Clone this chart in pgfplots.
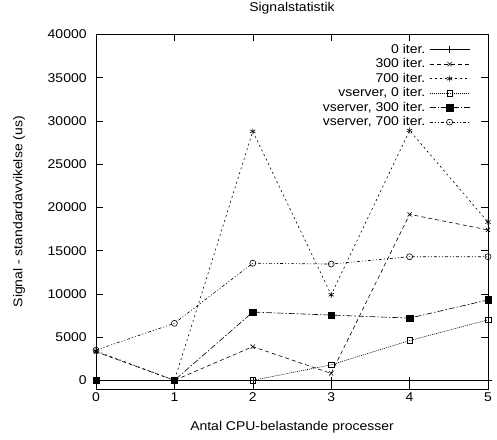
\documentclass[border=0pt]{standalone}
\usepackage{fontspec}
\setmainfont{Liberation Sans}[FakeStretch=1.1]
\usepackage{pgfplots}
\pgfplotsset{compat=1.18}
\newcommand\chartfont{\fontsize{12.7pt}{14pt}\selectfont}
\begin{document}
\chartfont
\begin{tikzpicture}[every node/.append style={font=\chartfont}]
\begin{axis}[
  at={(0pt,0pt)}, anchor=south west,
  scale only axis,
  width=392pt, height=354.5pt,
  xmin=0, xmax=5, ymin=-1000, ymax=40000,
  xtick={0,1,2,3,4,5},
  ytick={0,5000,10000,15000,20000,25000,30000,35000,40000},
  /pgf/number format/assume math mode=true,
  /pgf/number format/1000 sep={},
  scaled y ticks=false,
  tick align=inside,
  major tick length=7pt,
  tick style={black, line width=0.5pt},
  axis line style={line width=0.8pt},
  ticklabel style={font=\chartfont},
  xticklabel style={anchor=center, yshift=-8pt},
  yticklabel style={anchor=east, xshift=-5pt},
  title={Signalstatistik},
  title style={at={(axis description cs:0.5,1.0564)}, anchor=center, font=\chartfont},
  xlabel={Antal CPU-belastande processer},
  xlabel style={at={(axis description cs:0.5,-0.1072)}, anchor=center, font=\chartfont},
  ylabel={Signal - standardavvikelse (us)},
  ylabel style={at={(axis description cs:-0.1964,0.5)}, anchor=center, font=\chartfont},
  legend style={draw=none, fill=none, at={(axis description cs:0.962,0.985)}, anchor=north east,
    row sep=-0.6pt, column sep=2pt, font=\chartfont},
  legend cell align=right,
  legend plot pos=right,
  legend image code/.code={\draw[mark repeat=2,mark phase=2] plot coordinates {(0pt,0pt) (20pt,0pt) (40pt,0pt)};},
  every axis plot/.append style={line width=0.6pt},
  mark size=3pt,
]
\addplot[black, solid, mark=+, mark size=3.5pt, mark options={solid}] coordinates {(0,0) (1,0) (2,0) (3,0) (4,0) (5,0)};
\addlegendentry{0 iter.}
\addplot[black, dash pattern=on 4pt off 3pt, mark=x, mark options={solid}] coordinates {(0,3300) (1,0) (2,3900) (3,800) (4,19200) (5,17400)};
\addlegendentry{300 iter.}
\addplot[black, dash pattern=on 2pt off 3pt, mark=asterisk, mark options={solid}] coordinates {(0,3400) (1,0) (2,28800) (3,9900) (4,28900) (5,18300)};
\addlegendentry{700 iter.}
\addplot[black, dash pattern=on 1pt off 1pt, mark=square, mark size=2.8pt, mark options={solid}] coordinates {(0,0) (1,0) (2,0) (3,1800) (4,4600) (5,7000)};
\addlegendentry{vserver, 0 iter.}
\addplot[black, dash pattern=on 6pt off 2pt on 1.5pt off 2pt, mark=square*, mark size=3.2pt, mark options={solid}] coordinates {(0,0) (1,0) (2,7900) (3,7550) (4,7200) (5,9300)};
\addlegendentry{vserver, 300 iter.}
\addplot[black, dash pattern=on 3pt off 2pt on 1pt off 2pt on 1pt off 2pt, mark=o, mark size=3pt, mark options={solid}] coordinates {(0,3500) (1,6600) (2,13550) (3,13450) (4,14300) (5,14300)};
\addlegendentry{vserver, 700 iter.}
\end{axis}
\pgfresetboundingbox
\path[use as bounding box] (-96pt,-50pt) rectangle (401pt,389pt);
\end{tikzpicture}
\end{document}
